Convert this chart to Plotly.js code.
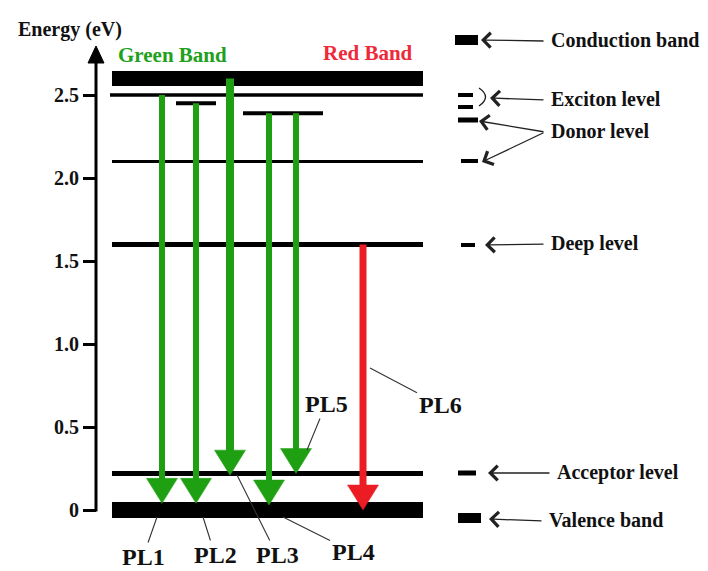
<!DOCTYPE html>
<html><head><meta charset="utf-8">
<script src="https://cdn.plot.ly/plotly-3.0.1.min.js"></script>
<style>html,body{margin:0;padding:0;background:#fff;} #chart{width:708px;height:571px;}</style>
</head><body><div id="chart"></div>
<script>
// ---------------- DATA ----------------
// Energy levels (eV)
const levelNames    = ['Valence band','Acceptor level','Deep level','Donor level','Donor level (shallow)','Exciton level (lower)','Exciton level','Conduction band'];
const levelEnergies = [0.00, 0.22, 1.60, 2.10, 2.39, 2.45, 2.50, 2.60];

// PL transitions (eV): start level and arrow tip
const plLabels = ['PL1','PL2','PL3','PL4','PL5','PL6'];
const plFrom   = [2.50, 2.45, 2.60, 2.39, 2.39, 1.60];
const plTo     = [0.04, 0.04, 0.21, 0.03, 0.22, 0.00];
const plBand   = ['Green','Green','Green','Green','Green','Red'];

// Axis ticks
const tickVals   = [0, 0.5, 1.0, 1.5, 2.0, 2.5];
const tickLabels = ['0','0.5','1.0','1.5','2.0','2.5'];

// ---------------- LAYOUT / STYLE ----------------
const W = 708, H = 571;
const ZERO_PX = 510, PX_PER_EV = 166;
const ePx = p => (ZERO_PX - p) / PX_PER_EV;   // pixel row -> energy (for decorations)
const FONT = 'Liberation Serif, Times New Roman, serif';
const GREEN = '#1f9f12', RED = '#ec1c24', INK = '#111';

const levelX0 = [112,112,112,112,243,176,110,112];
const levelX1 = [423,423,423,423,323,216,423,423];
const levelW  = [16, 5, 5, 3, 4, 4, 3.5, 15];

const plX      = [162,196,230,269,296,363];
const plShaftW = [6, 6, 8, 6, 6, 7];
const HEAD_W = 31, HEAD_H = 25 / PX_PER_EV;

const traces = [];
levelEnergies.forEach((e, i) => {
  traces.push({x:[levelX0[i], levelX1[i]], y:[e, e], mode:'lines', name:levelNames[i],
    line:{color:'#000', width:levelW[i]}, hoverinfo:'skip'});
});
plLabels.forEach((lab, i) => {
  const c = plBand[i] === 'Red' ? RED : GREEN;
  const X = plX[i], base = plTo[i] + HEAD_H;
  traces.push({x:[X, X], y:[plFrom[i], base - 0.01], mode:'lines', name:lab,
    line:{color:c, width:plShaftW[i]}, hoverinfo:'skip'});
  traces.push({x:[X - HEAD_W/2, X + HEAD_W/2, X, X - HEAD_W/2], y:[base, base, plTo[i], base],
    mode:'lines', fill:'toself', fillcolor:c, line:{color:c, width:0.5}, hoverinfo:'skip'});
});

// key (right side)
const keyItems = [
  {text:'Conduction band', marks:[[455,478,40,10]], arrows:[[481,40]], lx:549, ly:40},
  {text:'Exciton level',   marks:[[458,473,95,4],[458,473,107,4]], arrows:[[490,98]], lx:549, ly:99},
  {text:'Donor level',     marks:[[458,478,120,5],[461,478,161,4]], arrows:[[479,121],[482,162]], lx:549, ly:131},
  {text:'Deep level',      marks:[[461,475,245,4]], arrows:[[485,245]], lx:549, ly:243},
  {text:'Acceptor level',  marks:[[458,476,473,5]], arrows:[[488,473]], lx:555, ly:472},
  {text:'Valence band',    marks:[[458,481,518,10]], arrows:[[489,519]], lx:547, ly:520}
];
const annotations = [];
keyItems.forEach(k => {
  k.marks.forEach(m => traces.push({x:[m[0], m[1]], y:[ePx(m[2]), ePx(m[2])], mode:'lines',
    line:{color:'#000', width:m[3]}, hoverinfo:'skip'}));
  k.arrows.forEach(a => annotations.push({x:a[0], y:ePx(a[1]), xref:'x', yref:'y', text:'',
    showarrow:true, arrowhead:4, arrowsize:2.2, arrowwidth:1.3, arrowcolor:'#222',
    ax:(k.lx - 4) - a[0], ay:(k.ly + 1) - a[1]}));
  annotations.push({x:k.lx, y:ePx(k.ly), xref:'x', yref:'y', text:k.text, showarrow:false,
    xanchor:'left', yanchor:'middle', font:{family:FONT, size:20, color:INK, weight:'bold'}});
});

// PL labels with leader lines
const plLeader = [[157,517,143,557],[203,517,215,555],[237,475,277,555],[283,517,353,552],[307,450,326,404],[370,368,440,405]];
plLabels.forEach((lab, i) => {
  const L = plLeader[i];
  annotations.push({x:L[0], y:ePx(L[1]), xref:'x', yref:'y', text:lab, showarrow:true,
    arrowhead:0, arrowwidth:1.1, arrowcolor:'#333', ax:L[2]-L[0], ay:L[3]-L[1],
    font:{family:FONT, size:24, color:INK, weight:'bold'}});
});

annotations.push({x:70, y:ePx(29), xref:'x', yref:'y', text:'Energy (eV)', showarrow:false,
  font:{family:FONT, size:20, color:INK, weight:'bold'}});
annotations.push({x:172, y:ePx(55), xref:'x', yref:'y', text:'Green Band', showarrow:false,
  font:{family:FONT, size:21, color:'#22a01c', weight:'bold'}});
annotations.push({x:368, y:ePx(53), xref:'x', yref:'y', text:'Red Band', showarrow:false,
  font:{family:FONT, size:21, color:'#ee2a3a', weight:'bold'}});

const shapes = [
  {type:'line', xref:'x', yref:'y', x0:96, x1:96, y0:ePx(511.5), y1:ePx(62), line:{color:'#000', width:3}},
  {type:'path', xref:'x', yref:'y', path:`M88,${ePx(63)} L104,${ePx(63)} L96,${ePx(46)} Z`,
    fillcolor:'#000', line:{color:'#000', width:1}},
  {type:'path', xref:'x', yref:'y', path:`M479,${ePx(88)} Q492,${ePx(97)} 479,${ePx(106)}`,
    line:{color:'#222', width:1.4}}
];

const layout = {
  width:W, height:H, margin:{l:0, r:0, t:0, b:0},
  paper_bgcolor:'#fff', plot_bgcolor:'#fff', showlegend:false,
  xaxis:{range:[0, W], visible:false, fixedrange:true},
  yaxis:{range:[ePx(H), ePx(0)], anchor:'free', position:96/W, tickvals:tickVals, ticktext:tickLabels,
    ticks:'outside', ticklen:13, tickwidth:3, tickcolor:'#000', showgrid:false, zeroline:false,
    showline:false, automargin:false, fixedrange:true,
    tickfont:{family:FONT, size:20, color:INK, weight:'bold'}},
  annotations, shapes
};
Plotly.newPlot('chart', traces, layout, {displayModeBar:false, staticPlot:true});
</script></body></html>
